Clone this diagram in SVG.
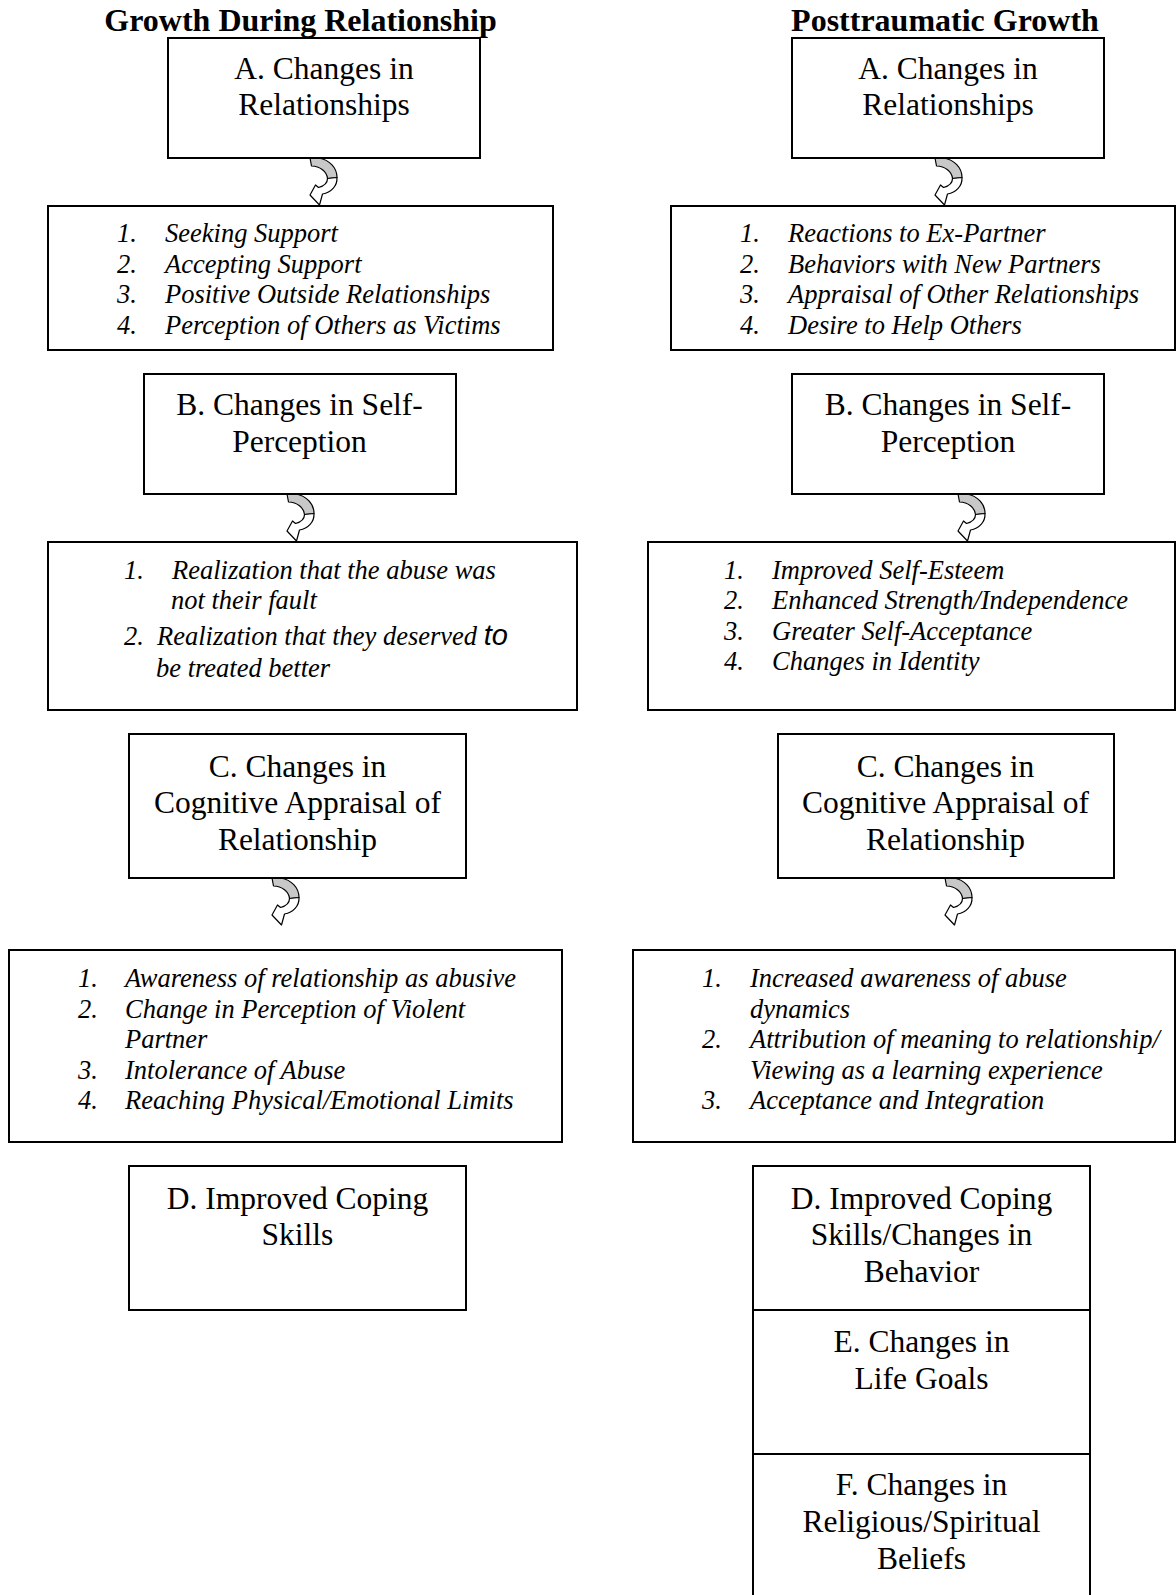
<svg xmlns="http://www.w3.org/2000/svg" xmlns:xlink="http://www.w3.org/1999/xlink" width="1176" height="1595" viewBox="0 0 1176 1595">
<style>
.box{fill:#fff;stroke:#000;stroke-width:2}
.t{font-family:"Liberation Serif","Times New Roman",serif;font-size:31.5px;fill:#000;text-anchor:middle}
.h{font-family:"Liberation Serif","Times New Roman",serif;font-size:32px;font-weight:bold;fill:#000;text-anchor:middle}
.li{font-family:"Liberation Serif","Times New Roman",serif;font-size:26.5px;font-style:italic;fill:#000}
.ag{fill:#c8c8c8;stroke:#000;stroke-width:1.2;stroke-linejoin:round}
.aw{fill:#fff;stroke:#000;stroke-width:1.2;stroke-linejoin:round}
</style>
<defs>
<g id="carrow">
<path class="ag" d="M0,0 L9,0 C19,2 27,9 27,19.5 L17.5,20.5 C17,14 10,8 1.5,8 Z"/>
<path class="aw" d="M27,19.5 C27.5,28 21,34.5 12.5,36 L9.5,47 L0,37 L5.5,27 L8.5,29.5 C14,28 17.5,25 17.5,20.5 Z"/>
</g>
</defs>
<rect width="1176" height="1595" fill="#fff"/>

<text class="h" x="300.5" y="31">Growth During Relationship</text>
<text class="h" x="945" y="31">Posttraumatic Growth</text>

<g id="connectors">
<use xlink:href="#carrow" href="#carrow" x="310" y="158"/>
<use xlink:href="#carrow" href="#carrow" x="935" y="158"/>
<use xlink:href="#carrow" href="#carrow" x="287" y="494"/>
<use xlink:href="#carrow" href="#carrow" x="958" y="494"/>
<use xlink:href="#carrow" href="#carrow" x="272" y="878"/>
<use xlink:href="#carrow" href="#carrow" x="945" y="878"/>
</g>

<g id="left-A">
<rect class="box" x="168" y="38" width="312" height="120"/>
<text class="t" x="324" y="79">A. Changes in</text>
<text class="t" x="324" y="115">Relationships</text>
</g>
<g id="left-A-list">
<rect class="box" x="48" y="206" width="505" height="144"/>
<text class="li" x="117" y="242">1.</text><text class="li" x="165" y="242">Seeking Support</text>
<text class="li" x="117" y="273">2.</text><text class="li" x="165" y="273">Accepting Support</text>
<text class="li" x="117" y="303">3.</text><text class="li" x="165" y="303">Positive Outside Relationships</text>
<text class="li" x="117" y="334">4.</text><text class="li" x="165" y="334">Perception of Others as Victims</text>
</g>
<g id="left-B">
<rect class="box" x="144" y="374" width="312" height="120"/>
<text class="t" x="299.5" y="415">B. Changes in Self-</text>
<text class="t" x="299.5" y="452">Perception</text>
</g>
<g id="left-B-list">
<rect class="box" x="48" y="542" width="529" height="168"/>
<text class="li" x="124" y="579">1.</text><text class="li" x="172" y="579">Realization that the abuse was</text>
<text class="li" x="171" y="609">not their fault</text>
<text class="li" x="124" y="645">2.</text><text class="li" x="157" y="645">Realization that they deserved <tspan style="font-family:'Liberation Sans','DejaVu Sans',sans-serif;font-size:29px">to</tspan></text>
<text class="li" x="156" y="677">be treated better</text>
</g>
<g id="left-C">
<rect class="box" x="129" y="734" width="337" height="144"/>
<text class="t" x="297.5" y="777">C. Changes in</text>
<text class="t" x="297.5" y="813">Cognitive Appraisal of</text>
<text class="t" x="297.5" y="850">Relationship</text>
</g>
<g id="left-C-list">
<rect class="box" x="9" y="950" width="553" height="192"/>
<text class="li" x="78" y="987">1.</text><text class="li" x="125" y="987">Awareness of relationship as abusive</text>
<text class="li" x="78" y="1018">2.</text><text class="li" x="125" y="1018">Change in Perception of Violent</text>
<text class="li" x="125" y="1048">Partner</text>
<text class="li" x="78" y="1079">3.</text><text class="li" x="125" y="1079">Intolerance of Abuse</text>
<text class="li" x="78" y="1109">4.</text><text class="li" x="125" y="1109">Reaching Physical/Emotional Limits</text>
</g>
<g id="left-D">
<rect class="box" x="129" y="1166" width="337" height="144"/>
<text class="t" x="297.5" y="1209">D. Improved Coping</text>
<text class="t" x="297.5" y="1245">Skills</text>
</g>

<g id="right-A">
<rect class="box" x="792" y="38" width="312" height="120"/>
<text class="t" x="948" y="79">A. Changes in</text>
<text class="t" x="948" y="115">Relationships</text>
</g>
<g id="right-A-list">
<rect class="box" x="671" y="206" width="504" height="144"/>
<text class="li" x="740" y="242">1.</text><text class="li" x="788" y="242">Reactions to Ex-Partner</text>
<text class="li" x="740" y="273">2.</text><text class="li" x="788" y="273">Behaviors with New Partners</text>
<text class="li" x="740" y="303">3.</text><text class="li" x="788" y="303">Appraisal of Other Relationships</text>
<text class="li" x="740" y="334">4.</text><text class="li" x="788" y="334">Desire to Help Others</text>
</g>
<g id="right-B">
<rect class="box" x="792" y="374" width="312" height="120"/>
<text class="t" x="948" y="415">B. Changes in Self-</text>
<text class="t" x="948" y="452">Perception</text>
</g>
<g id="right-B-list">
<rect class="box" x="648" y="542" width="527" height="168"/>
<text class="li" x="724" y="579">1.</text><text class="li" x="772" y="579">Improved Self-Esteem</text>
<text class="li" x="724" y="609">2.</text><text class="li" x="772" y="609">Enhanced Strength/Independence</text>
<text class="li" x="724" y="640">3.</text><text class="li" x="772" y="640">Greater Self-Acceptance</text>
<text class="li" x="724" y="670">4.</text><text class="li" x="772" y="670">Changes in Identity</text>
</g>
<g id="right-C">
<rect class="box" x="778" y="734" width="336" height="144"/>
<text class="t" x="945.5" y="777">C. Changes in</text>
<text class="t" x="945.5" y="813">Cognitive Appraisal of</text>
<text class="t" x="945.5" y="850">Relationship</text>
</g>
<g id="right-C-list">
<rect class="box" x="633" y="950" width="542" height="192"/>
<text class="li" x="702" y="987">1.</text><text class="li" x="750" y="987">Increased awareness of abuse</text>
<text class="li" x="750" y="1018">dynamics</text>
<text class="li" x="702" y="1048">2.</text><text class="li" x="750" y="1048">Attribution of meaning to relationship/</text>
<text class="li" x="750" y="1079">Viewing as a learning experience</text>
<text class="li" x="702" y="1109">3.</text><text class="li" x="750" y="1109">Acceptance and Integration</text>
</g>
<g id="right-D">
<rect class="box" x="753" y="1166" width="337" height="144"/>
<text class="t" x="921.5" y="1209">D. Improved Coping</text>
<text class="t" x="921.5" y="1245">Skills/Changes in</text>
<text class="t" x="921.5" y="1282">Behavior</text>
</g>
<g id="right-E">
<rect class="box" x="753" y="1310" width="337" height="144"/>
<text class="t" x="921.5" y="1352">E. Changes in</text>
<text class="t" x="921.5" y="1389">Life Goals</text>
</g>
<g id="right-F">
<rect class="box" x="753" y="1454" width="337" height="160"/>
<text class="t" x="921.5" y="1495">F. Changes in</text>
<text class="t" x="921.5" y="1532">Religious/Spiritual</text>
<text class="t" x="921.5" y="1569">Beliefs</text>
</g>
</svg>
